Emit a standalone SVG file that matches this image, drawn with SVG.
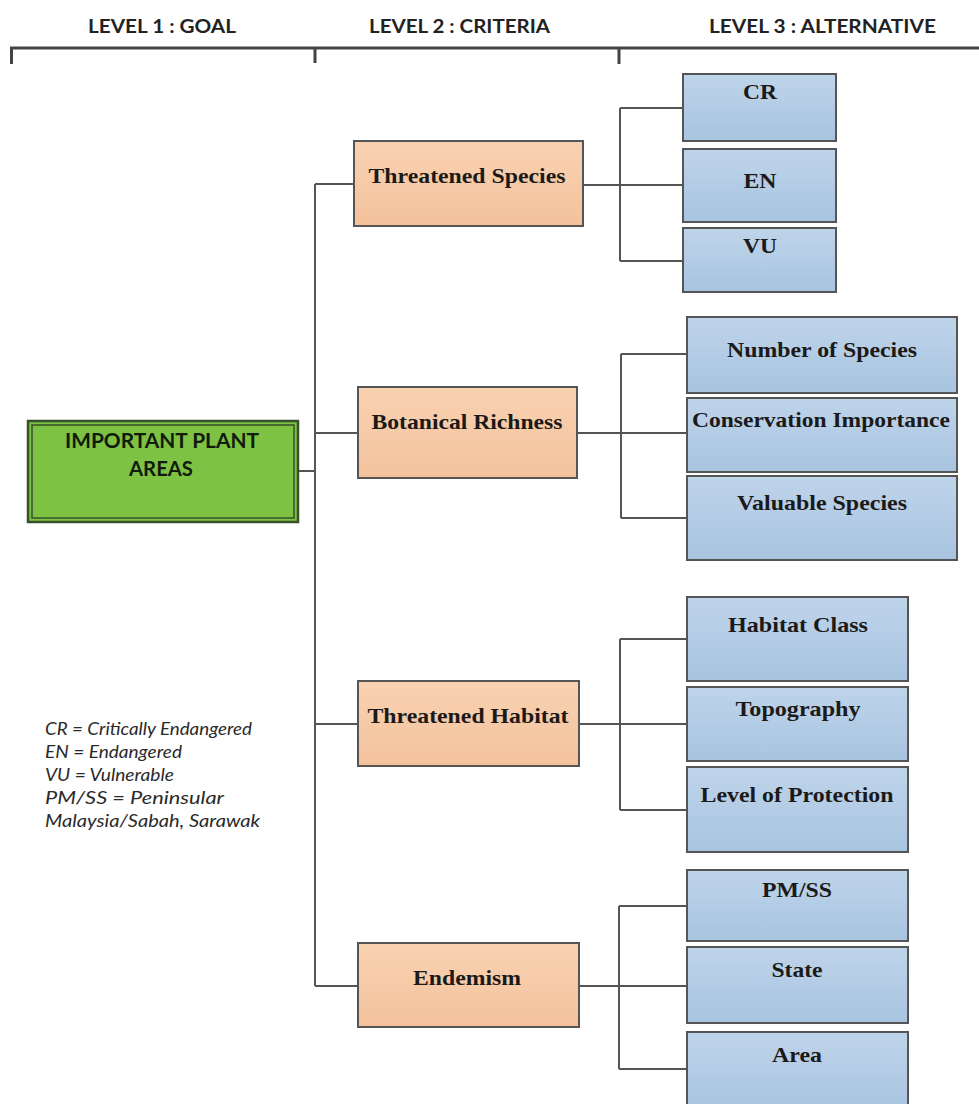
<svg xmlns="http://www.w3.org/2000/svg" width="979" height="1104" viewBox="0 0 979 1104">
<style>
.hdr{font-family:Lato,"Open Sans","Liberation Sans",sans-serif;font-weight:bold;font-size:19px;fill:#222}
.leg{font-family:Lato,"Open Sans","Liberation Sans",sans-serif;font-style:italic;font-size:17.5px;fill:#2a2a2a}
.lbl{font-family:"Liberation Serif","Times New Roman",serif;font-weight:bold;font-size:21px;fill:#1c1a18;text-anchor:middle}
.goal{font-family:Lato,"Open Sans","Liberation Sans",sans-serif;font-weight:bold;font-size:21px;fill:#111a0b;text-anchor:middle}
.crit{fill:url(#gOrange);stroke:#555;stroke-width:2}
.alt{fill:url(#gBlue);stroke:#555;stroke-width:2}
.con{fill:none;stroke:#555;stroke-width:2}
.hline{fill:none;stroke:#444;stroke-width:3}
</style>
<defs>
<linearGradient id="gOrange" x1="0" y1="0" x2="0" y2="1">
<stop offset="0" stop-color="#f9d2b2"/>
<stop offset="1" stop-color="#f3c29c"/>
</linearGradient>
<linearGradient id="gBlue" x1="0" y1="0" x2="0" y2="1">
<stop offset="0" stop-color="#bed4ea"/>
<stop offset="1" stop-color="#a9c4e0"/>
</linearGradient>
</defs>
<rect width="979" height="1104" fill="#fff"/>

<g id="header">
<text class="hdr" x="88" y="33" textLength="148" lengthAdjust="spacingAndGlyphs">LEVEL 1 : GOAL</text>
<text class="hdr" x="369" y="33" textLength="181" lengthAdjust="spacingAndGlyphs">LEVEL 2 : CRITERIA</text>
<text class="hdr" x="709" y="33" textLength="227" lengthAdjust="spacingAndGlyphs">LEVEL 3 : ALTERNATIVE</text>
<path class="hline" d="M10,48 H979 M11.5,48 V64 M315,48 V63 M619,48 V64"/>
</g>

<g id="connectors">
<path class="con" d="M299,471 H315 M315,184 V986 M315,184 H354 M315,433 H358 M315,724 H358 M315,986 H358"/>
<path class="con" d="M583,185 H683 M620,108 V261 M620,108 H683 M620,261 H683"/>
<path class="con" d="M577,433 H687 M621,354 V518 M621,354 H687 M621,518 H687"/>
<path class="con" d="M579,724 H687 M620,639 V810 M620,639 H687 M620,810 H687"/>
<path class="con" d="M579,986 H687 M619,906 V1069 M619,906 H687 M619,1069 H687"/>
</g>

<g id="goal">
<rect x="28" y="421" width="270" height="101" fill="#7dc242" stroke="#35522a" stroke-width="2.5"/>
<rect x="32" y="425" width="262" height="93" fill="none" stroke="#35522a" stroke-width="1.5"/>
<text class="goal" x="162" y="448" textLength="194" lengthAdjust="spacingAndGlyphs">IMPORTANT PLANT</text>
<text class="goal" x="161" y="476" textLength="64" lengthAdjust="spacingAndGlyphs">AREAS</text>
</g>

<g id="legend">
<text class="leg" x="45" y="735" textLength="207" lengthAdjust="spacingAndGlyphs">CR = Critically Endangered</text>
<text class="leg" x="45" y="758" textLength="137" lengthAdjust="spacingAndGlyphs">EN = Endangered</text>
<text class="leg" x="45" y="781" textLength="129" lengthAdjust="spacingAndGlyphs">VU = Vulnerable</text>
<text class="leg" x="45" y="804" textLength="179" lengthAdjust="spacingAndGlyphs">PM/SS = Peninsular</text>
<text class="leg" x="45" y="827" textLength="215" lengthAdjust="spacingAndGlyphs">Malaysia/Sabah, Sarawak</text>
</g>

<g id="threatened-species">
<rect class="crit" x="354" y="141" width="229" height="85"/>
<text class="lbl" x="467" y="183" textLength="197" lengthAdjust="spacingAndGlyphs">Threatened Species</text>
</g>
<g id="cr">
<rect class="alt" x="683" y="74" width="153" height="67"/>
<text class="lbl" x="760" y="99" textLength="34" lengthAdjust="spacingAndGlyphs">CR</text>
</g>
<g id="en">
<rect class="alt" x="683" y="149" width="153" height="73"/>
<text class="lbl" x="760" y="188" textLength="33" lengthAdjust="spacingAndGlyphs">EN</text>
</g>
<g id="vu">
<rect class="alt" x="683" y="228" width="153" height="64"/>
<text class="lbl" x="760" y="253" textLength="34" lengthAdjust="spacingAndGlyphs">VU</text>
</g>

<g id="botanical-richness">
<rect class="crit" x="358" y="387" width="219" height="91"/>
<text class="lbl" x="467" y="429" textLength="191" lengthAdjust="spacingAndGlyphs">Botanical Richness</text>
</g>
<g id="number-of-species">
<rect class="alt" x="687" y="317" width="270" height="76"/>
<text class="lbl" x="822" y="357" textLength="190" lengthAdjust="spacingAndGlyphs">Number of Species</text>
</g>
<g id="conservation-importance">
<rect class="alt" x="687" y="398" width="270" height="74"/>
<text class="lbl" x="821" y="427" textLength="258" lengthAdjust="spacingAndGlyphs">Conservation Importance</text>
</g>
<g id="valuable-species">
<rect class="alt" x="687" y="476" width="270" height="84"/>
<text class="lbl" x="822" y="510" textLength="170" lengthAdjust="spacingAndGlyphs">Valuable Species</text>
</g>

<g id="threatened-habitat">
<rect class="crit" x="358" y="681" width="221" height="85"/>
<text class="lbl" x="468" y="723" textLength="201" lengthAdjust="spacingAndGlyphs">Threatened Habitat</text>
</g>
<g id="habitat-class">
<rect class="alt" x="687" y="597" width="221" height="84"/>
<text class="lbl" x="798" y="632" textLength="140" lengthAdjust="spacingAndGlyphs">Habitat Class</text>
</g>
<g id="topography">
<rect class="alt" x="687" y="687" width="221" height="74"/>
<text class="lbl" x="798" y="716" textLength="125" lengthAdjust="spacingAndGlyphs">Topography</text>
</g>
<g id="level-of-protection">
<rect class="alt" x="687" y="767" width="221" height="85"/>
<text class="lbl" x="797" y="802" textLength="193" lengthAdjust="spacingAndGlyphs">Level of Protection</text>
</g>

<g id="endemism">
<rect class="crit" x="358" y="943" width="221" height="84"/>
<text class="lbl" x="467" y="985" textLength="108" lengthAdjust="spacingAndGlyphs">Endemism</text>
</g>
<g id="pm-ss">
<rect class="alt" x="687" y="870" width="221" height="71"/>
<text class="lbl" x="797" y="897" textLength="70" lengthAdjust="spacingAndGlyphs">PM/SS</text>
</g>
<g id="state">
<rect class="alt" x="687" y="947" width="221" height="76"/>
<text class="lbl" x="797" y="977" textLength="51" lengthAdjust="spacingAndGlyphs">State</text>
</g>
<g id="area">
<rect class="alt" x="687" y="1032" width="221" height="80"/>
<text class="lbl" x="797" y="1062" textLength="50" lengthAdjust="spacingAndGlyphs">Area</text>
</g>
</svg>
